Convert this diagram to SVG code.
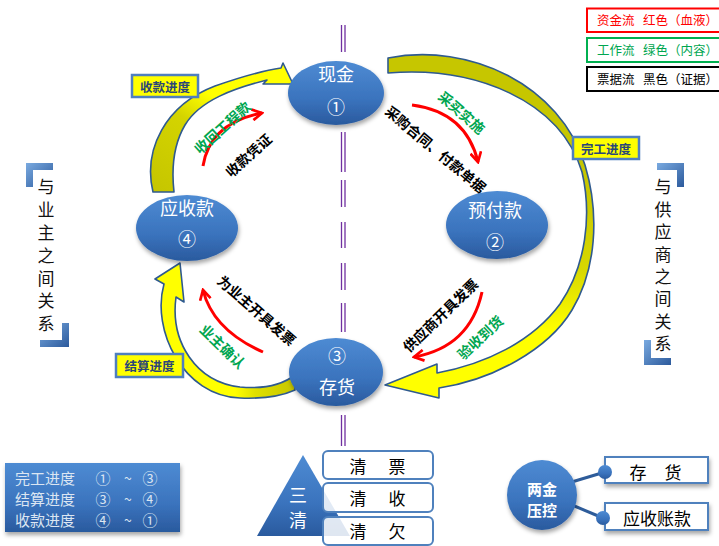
<svg xmlns="http://www.w3.org/2000/svg" width="719" height="546" viewBox="0 0 719 546">
<style>
text{font-family:"Noto Sans CJK SC","Noto Sans",sans-serif}
.c{text-anchor:middle}
.w{fill:#ffffff}
.lbl{font-size:14px;font-weight:bold;text-anchor:middle;dominant-baseline:central}
.g{fill:#00A650}
.k{fill:#000000}
.red{fill:none;stroke:#FF0000;stroke-width:3;marker-end:url(#ah)}
.ya{stroke:#2F5A8F;stroke-width:1.6;stroke-linejoin:round}
.yl{fill:#FFFF00;stroke:#4F7FBF;stroke-width:2.5}
.ylt{font-size:12.5px;font-weight:bold;fill:#2A4678;text-anchor:middle;dominant-baseline:central}
.ell{fill:url(#gBlue);filter:url(#sh)}
.pur{stroke:#7030A0;stroke-width:1.3}
.vt{font-size:17px;fill:#111;writing-mode:vertical-rl}
.bx{fill:#ffffff;fill-opacity:0.85;stroke:#4F81BD;stroke-width:2}
.bt{font-size:17px;fill:#000;text-anchor:middle;dominant-baseline:central}
</style>
<defs>
<linearGradient id="gBlue" x1="0" y1="0" x2="0" y2="1">
<stop offset="0" stop-color="#4E8BD3"/>
<stop offset="0.6" stop-color="#3A73BD"/>
<stop offset="1" stop-color="#2A5A9E"/>
</linearGradient>
<linearGradient id="gBr" x1="0" y1="0" x2="1" y2="1">
<stop offset="0" stop-color="#7AAAE0"/>
<stop offset="1" stop-color="#2C5A9C"/>
</linearGradient>
<linearGradient id="gA1" gradientUnits="userSpaceOnUse" x1="160" y1="190" x2="235" y2="80">
<stop offset="0" stop-color="#C6C600"/>
<stop offset="0.55" stop-color="#D4D400"/>
<stop offset="0.8" stop-color="#FFFF00"/>
</linearGradient>
<linearGradient id="gA2" gradientUnits="userSpaceOnUse" x1="0" y1="180" x2="0" y2="330">
<stop offset="0" stop-color="#C6C600"/>
<stop offset="0.6" stop-color="#D8D800"/>
<stop offset="1" stop-color="#FFFF00"/>
</linearGradient>
<linearGradient id="gA3" gradientUnits="userSpaceOnUse" x1="295" y1="385" x2="215" y2="385">
<stop offset="0" stop-color="#C6C600"/>
<stop offset="0.5" stop-color="#E0E000"/>
<stop offset="0.75" stop-color="#FFFF00"/>
</linearGradient>
<filter id="sh" x="-20%" y="-20%" width="140%" height="160%">
<feDropShadow dx="1" dy="3" stdDeviation="2" flood-color="#000" flood-opacity="0.35"/>
</filter>
<marker id="ah" viewBox="0 0 12 12" refX="10" refY="6" markerWidth="13" markerHeight="13" markerUnits="userSpaceOnUse" orient="auto">
<path d="M1,1 L10,6 L1,11" fill="none" stroke="#FF0000" stroke-width="2.5"/>
</marker>
</defs>
<rect width="719" height="546" fill="#ffffff"/>

<!-- center divider -->
<g id="divider">
<path class="pur" d="M341.5,25V52M345,25V52M341.5,132V172M345,132V172M341.5,180V207M345,180V207M341.5,222V248M345,222V248M341.5,263V290M345,263V290M341.5,303V332M345,303V332M341.5,415V446M345,415V446"/>
</g>

<!-- legend -->
<g id="legend">
<rect x="587" y="8.5" width="140" height="23.5" fill="#fff" stroke="#FF0000" stroke-width="2"/>
<text x="597" y="25" font-size="12.5" fill="#FF0000">资金流</text>
<text x="643" y="25" font-size="12.5" fill="#FF0000">红色（血液）</text>
<rect x="587" y="38" width="140" height="24" fill="#fff" stroke="#00B050" stroke-width="2"/>
<text x="597" y="55" font-size="12.5" fill="#00A650">工作流</text>
<text x="643" y="55" font-size="12.5" fill="#00A650">绿色（内容）</text>
<rect x="587" y="67" width="140" height="24" fill="#fff" stroke="#000" stroke-width="2"/>
<text x="597" y="84" font-size="12.5" fill="#000">票据流</text>
<text x="643" y="84" font-size="12.5" fill="#000">黑色（证据）</text>
</g>

<!-- side relations -->
<g id="owner-relation">
<path d="M26,163H53V170H33V187H26Z" fill="url(#gBr)"/>
<path d="M62,323H69V347H40V340H62Z" fill="url(#gBr)"/>
<text class="vt" x="46" y="178.5" letter-spacing="5.8">与业主之间关系</text>
</g>
<g id="supplier-relation">
<path d="M657,163H684V187H677V170H657Z" fill="url(#gBr)"/>
<path d="M644,340H651V358H671V365H644Z" fill="url(#gBr)"/>
<text class="vt" x="663" y="178.5" letter-spacing="5.4">与供应商之间关系</text>
</g>

<!-- connectors -->
<g id="connectors">
<path class="ya" fill="url(#gA2)" d="M388,58 C470,42 560,85 585,165 C600,215 596,270 572,310 C548,350 492,380 439,388 L439,398 L385,385 L437,364 L437,373 C485,364 532,342 560,304 C586,266 592,215 582,172 C560,100 475,66 388,73 Z"/>
<path class="ya" fill="url(#gA1)" d="M153,192 C143,150 165,105 215,86 C238,78 260,71 281,68 L283,63 L293,84 L263,84 L267,80 C235,88 200,100 185,125 C175,142 171,165 174,192 Z"/>
<path class="ya" fill="url(#gA3)" d="M295,375 C282,385 262,389 240,387 C196,382 170,342 176,297 L184,302 L180,263 L155,279 L164,284 C151,330 183,396 240,398 C264,399 284,395 295,390 Z"/>
<path class="red" d="M203,166 Q210,123 262,113"/>
<path class="red" d="M412,105 Q466,112 478,162"/>
<path class="red" d="M482,292 Q470,347 414,357"/>
<path class="red" d="M263,352 Q213,330 203,290"/>
<text class="lbl g" transform="translate(222,127) rotate(-42)">收回工程款</text>
<text class="lbl k" transform="translate(248,155) rotate(-42)">收款凭证</text>
<text class="lbl g" transform="translate(462,112) rotate(41)">采买实施</text>
<text class="lbl k" transform="translate(436,149) rotate(40)">采购合同、付款单据</text>
<text class="lbl k" transform="translate(440,315) rotate(-44)">供应商开具发票</text>
<text class="lbl g" transform="translate(480,337) rotate(-43)">验收到货</text>
<text class="lbl k" transform="translate(257,310) rotate(41)">为业主开具发票</text>
<text class="lbl g" transform="translate(223,346) rotate(44)">业主确认</text>
<rect class="yl" x="132" y="75" width="66" height="22"/>
<text class="ylt" x="165" y="86">收款进度</text>
<rect class="yl" x="573" y="137" width="66" height="22"/>
<text class="ylt" x="606" y="148">完工进度</text>
<rect class="yl" x="116" y="354" width="67" height="23"/>
<text class="ylt" x="149.5" y="365.5">结算进度</text>
</g>

<!-- main nodes -->
<g id="cash">
<ellipse class="ell" cx="336" cy="93" rx="48" ry="32"/>
<text class="c w" x="336" y="81" font-size="18">现金</text>
<text class="c w" x="336" y="114" font-size="18">①</text>
</g>
<g id="prepay">
<ellipse class="ell" cx="497" cy="225" rx="51" ry="34"/>
<text class="c w" x="495" y="217" font-size="18">预付款</text>
<text class="c w" x="495" y="249" font-size="18">②</text>
</g>
<g id="receivable">
<ellipse class="ell" cx="187" cy="228" rx="51" ry="33"/>
<text class="c w" x="187" y="215" font-size="18">应收款</text>
<text class="c w" x="187" y="246" font-size="18">④</text>
</g>
<g id="inventory">
<ellipse class="ell" cx="336" cy="372" rx="47" ry="34"/>
<text class="c w" x="337" y="363" font-size="18">③</text>
<text class="c w" x="337" y="394" font-size="18">存货</text>
</g>

<!-- progress summary -->
<g id="progress">
<rect x="5" y="463" width="175" height="69" fill="url(#gBlue)" filter="url(#sh)"/>
<g font-size="15" fill="#DCE6F2">
<text x="15" y="484">完工进度</text><text class="c" x="103" y="484">①</text><text class="c" x="128" y="484" font-size="14">~</text><text class="c" x="150" y="484">③</text>
<text x="15" y="505">结算进度</text><text class="c" x="103" y="505">③</text><text class="c" x="128" y="505" font-size="14">~</text><text class="c" x="150" y="505">④</text>
<text x="15" y="526">收款进度</text><text class="c" x="103" y="526">④</text><text class="c" x="128" y="526" font-size="14">~</text><text class="c" x="150" y="526">①</text>
</g>
</g>

<!-- three clears -->
<g id="three-clear">
<polygon points="303,455 257,536 350,536" fill="url(#gBlue)"/>
<text class="c w" x="298" y="494" font-size="18" dominant-baseline="central">三</text>
<text class="c w" x="298" y="519" font-size="18" dominant-baseline="central">清</text>
<rect class="bx" x="323" y="451" width="110" height="28" rx="5"/>
<text class="bt" x="358" y="465">清</text><text class="bt" x="397" y="465">票</text>
<rect class="bx" x="323" y="483" width="110" height="29" rx="5"/>
<text class="bt" x="358" y="497">清</text><text class="bt" x="397" y="497">收</text>
<rect class="bx" x="323" y="517" width="110" height="28" rx="5"/>
<text class="bt" x="358" y="530">清</text><text class="bt" x="397" y="530">欠</text>
</g>

<!-- two funds control -->
<g id="two-funds">
<line x1="565" y1="484" x2="605" y2="472" stroke="#2E5C9A" stroke-width="3"/>
<line x1="572" y1="505" x2="603" y2="518" stroke="#2E5C9A" stroke-width="3"/>
<rect x="605" y="457" width="103" height="26" fill="#fff" stroke="#4F81BD" stroke-width="2" filter="url(#sh)"/>
<text class="bt" x="638" y="471">存</text><text class="bt" x="673" y="471">货</text>
<rect x="605" y="503" width="103" height="27" fill="#fff" stroke="#4F81BD" stroke-width="2" filter="url(#sh)"/>
<text class="bt" x="657" y="517">应收账款</text>
<circle cx="605" cy="472" r="7" fill="url(#gBlue)"/>
<circle cx="603" cy="518" r="7" fill="url(#gBlue)"/>
<circle cx="542" cy="495" r="35" fill="url(#gBlue)" filter="url(#sh)"/>
<text class="c w" x="542" y="495" font-size="15" font-weight="bold">两金</text>
<text class="c w" x="542" y="516" font-size="15" font-weight="bold">压控</text>
</g>
</svg>
